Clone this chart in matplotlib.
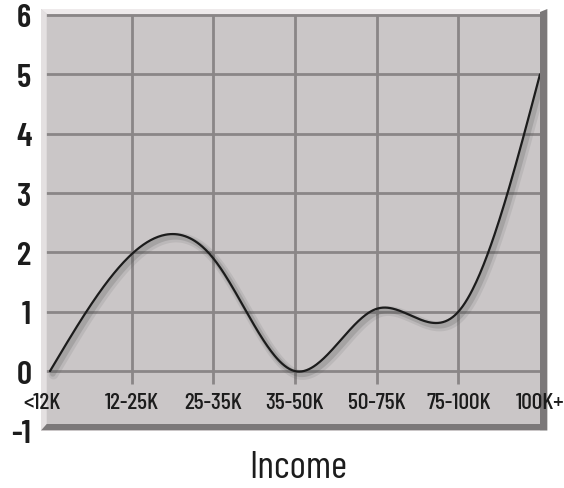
import numpy as np
import matplotlib
matplotlib.use('Agg')
import matplotlib.pyplot as plt
from matplotlib.patches import Polygon
import matplotlib.patheffects as pe

plt.rcParams['font.family'] = ['Barlow Condensed', 'Archivo Narrow', 'DejaVu Sans']

# average value per income bracket
brackets = ['<12K', '12-25K', '25-35K', '35-50K', '50-75K', '75-100K', '100K+']
values = [0.0, 1.97, 1.9, 0.0, 1.05, 1.0, 5.0]
yticks = [-1, 0, 1, 2, 3, 4, 5, 6]

face = '#cac6c7'
grid_c = '#8a8687'
light = '#e4e0e1'
dark = '#7b7879'
ink = '#1c1c1c'


def natural_spline(xs, ys, xq):
    xs = np.asarray(xs, float)
    ys = np.asarray(ys, float)
    n = len(xs)
    h = np.diff(xs)
    A = np.zeros((n, n))
    b = np.zeros(n)
    A[0, 0] = 1
    A[-1, -1] = 1
    for i in range(1, n - 1):
        A[i, i - 1] = h[i - 1]
        A[i, i] = 2 * (h[i - 1] + h[i])
        A[i, i + 1] = h[i]
        b[i] = 6 * ((ys[i + 1] - ys[i]) / h[i] - (ys[i] - ys[i - 1]) / h[i - 1])
    M = np.linalg.solve(A, b)
    k = np.clip(np.searchsorted(xs, xq) - 1, 0, n - 2)
    t0 = xq - xs[k]
    t1 = xs[k + 1] - xq
    hk = h[k]
    return (M[k] * t1**3 / (6 * hk) + M[k + 1] * t0**3 / (6 * hk)
            + (ys[k] / hk - M[k] * hk / 6) * t1
            + (ys[k + 1] / hk - M[k + 1] * hk / 6) * t0)


W, H = 564, 489
fig = plt.figure(figsize=(W / 100, H / 100), dpi=100)
fig.patch.set_facecolor('white')

# axes box in pixels
x0, x1 = 41, 540
y_top, y_bot = 10, 431.5
ax = fig.add_axes([x0 / W, 1 - y_bot / H, (x1 - x0) / W, (y_bot - y_top) / H])
ax.set_facecolor(face)
xpos = np.arange(len(brackets))
ax.set_xlim(-0.11, 6.0)
ax.set_ylim(-1, 6.1)
for s in ax.spines.values():
    s.set_visible(False)

# grid
ax.hlines(yticks[1:], -0.05, 6.0, color=grid_c, lw=2, zorder=1)
ax.vlines(xpos[1:-1], -0.22, 6.0, color=grid_c, lw=2, zorder=1)

# bevel: light top/left, dark bottom/right
bot = -0.89
ax.add_patch(Polygon([[-0.11, bot], [6.0, bot], [6.0, -1.0], [-0.11, -1.0]],
                     closed=True, fc=dark, ec='none', zorder=2, clip_on=False))
ax.add_patch(Polygon([[-0.11, -1.0], [-0.04, -0.89], [-0.04, 6.02], [-0.11, 6.1]],
                     closed=True, fc=light, ec='none', zorder=2, clip_on=False))
ax.add_patch(Polygon([[-0.11, 6.1], [6.0, 6.1], [6.0, 6.02], [-0.04, 6.02]],
                     closed=True, fc='#eeeaeb', ec='none', zorder=2, clip_on=False))
ax.add_patch(Polygon([[6.0, 6.05], [6.09, 6.1], [6.09, -1.0], [6.0, -1.0]],
                     closed=True, fc=dark, ec='none', zorder=2, clip_on=False))

# smooth curve through bracket values
xs = np.linspace(0, 6, 400)
ys = natural_spline(xpos, values, xs)
ax.plot(xs, ys, color=ink, lw=1.6, zorder=4, solid_capstyle='round',
        path_effects=[pe.SimpleLineShadow(offset=(2.5, -2.5), shadow_color='#555555', alpha=0.12, linewidth=7),
                      pe.SimpleLineShadow(offset=(2, -2), shadow_color='#444444', alpha=0.18, linewidth=4),
                      pe.Normal()])

# labels
ax.set_yticks(yticks)
ax.set_yticklabels([str(v) for v in yticks], fontsize=24, fontweight=600, color=ink)
ax.tick_params(axis='y', length=0, pad=7)
ax.set_xticks([])
for i, lab in enumerate(brackets):
    dx = -0.1 if i == 0 else 0
    ax.text(i + dx, -0.52, lab, ha='center', va='center', fontsize=17, fontweight=500,
            color=ink, zorder=5, clip_on=False)
ax.set_xlabel('Income', fontsize=28, fontweight=400, color=ink)
ax.xaxis.set_label_coords(0.515, -0.11, transform=ax.transAxes)
ax.xaxis.label.set_va('baseline')

fig.savefig('out.png', dpi=100)
